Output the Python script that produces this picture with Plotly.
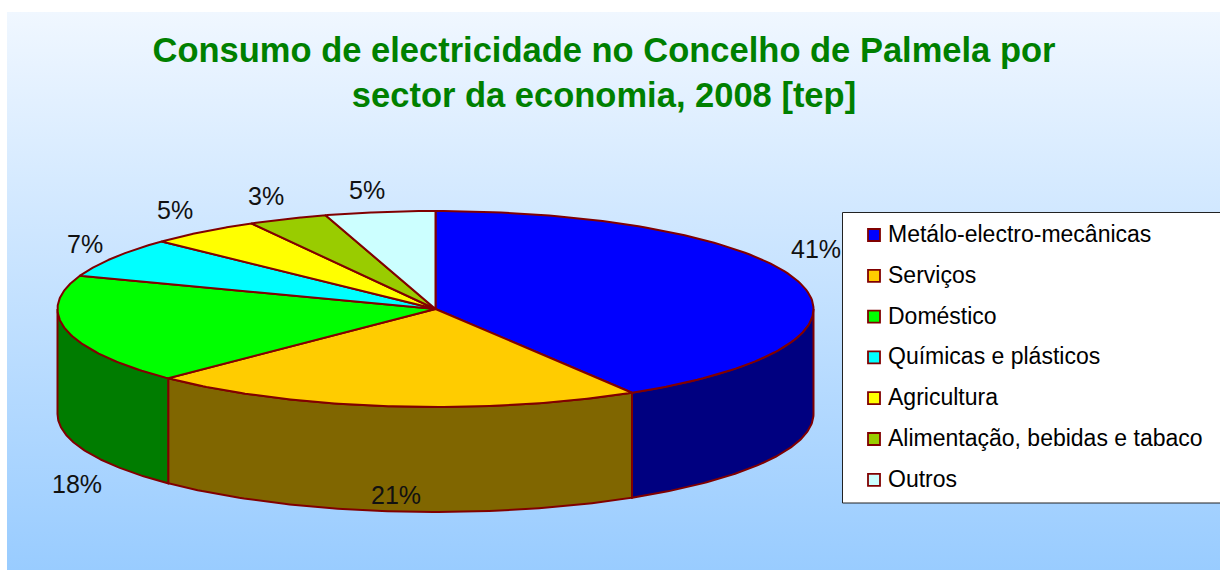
import numpy as np
import plotly.graph_objects as go

# ---- data ----
CATEGORIES = ["Metálo-electro-mecânicas", "Serviços", "Doméstico", "Químicas e plásticos",
              "Agricultura", "Alimentação, bebidas e tabaco", "Outros"]
VALUES = [41.3, 21.2, 18.0, 6.6, 4.8, 3.4, 4.7]
TOP_COLORS = ["#0000FF", "#FFCC00", "#00FF00", "#00FFFF", "#FFFF00", "#99CC00", "#CCFFFF"]
WALL_COLORS = ["#000080", "#806600", "#007C00", "#008080", "#808000", "#4D6600", "#668080"]
TITLE = "Consumo de electricidade no Concelho de Palmela por<br>sector da economia, 2008 [tep]"

# ---- styling / geometry ----
W, H = 1220, 570
CX, CY, RX, RY, DEPTH = 435.5, 309, 378, 98, 105
EDGE = "#800000"
LABEL_SHIFT = [(17, -34), (6, 89), (10, 154), (-29, -14), (-29, -22), (-22, -23), (-13, -22)]
LEGEND_X0, LEGEND_Y0, LEGEND_Y1 = 842.5, 212.5, 503
LEGEND_FIRST, LEGEND_STEP = 234, 40.8


def ell(t):
    r = np.radians(t)
    return CX + RX * np.sin(r), CY - RY * np.cos(r)


fig = go.Figure()

# background gradient panel
fig.add_trace(go.Scatter(
    x=[7, W, W, 7, 7], y=[12, 12, H, H, 12], mode="none", fill="toself",
    fillgradient=dict(type="vertical", colorscale=[[0, "#99CCFF"], [1, "#F0F7FF"]]),
    hoverinfo="skip", showlegend=False))

total = sum(VALUES)
edges = np.concatenate([[0], np.cumsum(VALUES)]) / total * 360

# outer walls (front half of the disc only)
for i, name in enumerate(CATEGORIES):
    a, b = max(edges[i], 90), min(edges[i + 1], 270)
    if b <= a:
        continue
    t = np.linspace(a, b, 90)
    x, y = ell(t)
    xs = np.concatenate([x, x[::-1], x[:1]])
    ys = np.concatenate([y, y[::-1] + DEPTH, y[:1]])
    fig.add_trace(go.Scatter(x=xs, y=ys, mode="lines", fill="toself", fillcolor=WALL_COLORS[i],
                             line=dict(color=EDGE, width=2), name=name,
                             hoverinfo="name", showlegend=False))

# top faces
for i, name in enumerate(CATEGORIES):
    t = np.linspace(edges[i], edges[i + 1], 120)
    x, y = ell(t)
    xs = np.concatenate([[CX], x, [CX]])
    ys = np.concatenate([[CY], y, [CY]])
    fig.add_trace(go.Scatter(x=xs, y=ys, mode="lines", fill="toself", fillcolor=TOP_COLORS[i],
                             line=dict(color=EDGE, width=2), name=name,
                             hoverinfo="name", showlegend=False))

# percentage labels
annotations = []
for i, v in enumerate(VALUES):
    mx, my = ell((edges[i] + edges[i + 1]) / 2)
    annotations.append(dict(x=mx, y=my, text=f"{v / total * 100:.0f}%", showarrow=False,
                            xshift=LABEL_SHIFT[i][0], yshift=-LABEL_SHIFT[i][1],
                            font=dict(family="Liberation Sans, Arial", size=25, color="#111111")))

# legend box
fig.add_trace(go.Scatter(
    x=[LEGEND_X0, W + 5, W + 5, LEGEND_X0, LEGEND_X0],
    y=[LEGEND_Y0, LEGEND_Y0, LEGEND_Y1, LEGEND_Y1, LEGEND_Y0],
    mode="lines", fill="toself", fillcolor="white", line=dict(color="#222222", width=1),
    hoverinfo="skip", showlegend=False))
ly = [LEGEND_FIRST + k * LEGEND_STEP for k in range(len(CATEGORIES))]
fig.add_trace(go.Scatter(x=[874] * len(ly), y=[v + 1 for v in ly], mode="markers",
                         marker=dict(symbol="square", size=12, color=TOP_COLORS,
                                     line=dict(color=EDGE, width=1.8)),
                         hoverinfo="skip", showlegend=False))
for name, y in zip(CATEGORIES, ly):
    annotations.append(dict(x=886, y=y, text=name, showarrow=False, xanchor="left",
                            font=dict(family="Liberation Sans, Arial", size=23, color="black")))

fig.update_layout(
    width=W, height=H, margin=dict(l=0, r=0, t=0, b=0), autosize=False,
    paper_bgcolor="white", plot_bgcolor="rgba(0,0,0,0)", showlegend=False,
    xaxis=dict(visible=False, range=[0, W], fixedrange=True),
    yaxis=dict(visible=False, range=[H, 0], fixedrange=True),
    title=dict(text=TITLE, x=604 / W, xanchor="center", y=1 - 62 / H, yanchor="top",
               font=dict(family="Liberation Sans, Arial", size=34.5, color="#008000", weight="bold")),
    annotations=annotations)

fig.write_html("out.html", config={"displayModeBar": False},
               post_script="document.body.style.margin='0';document.body.style.overflow='hidden';")
